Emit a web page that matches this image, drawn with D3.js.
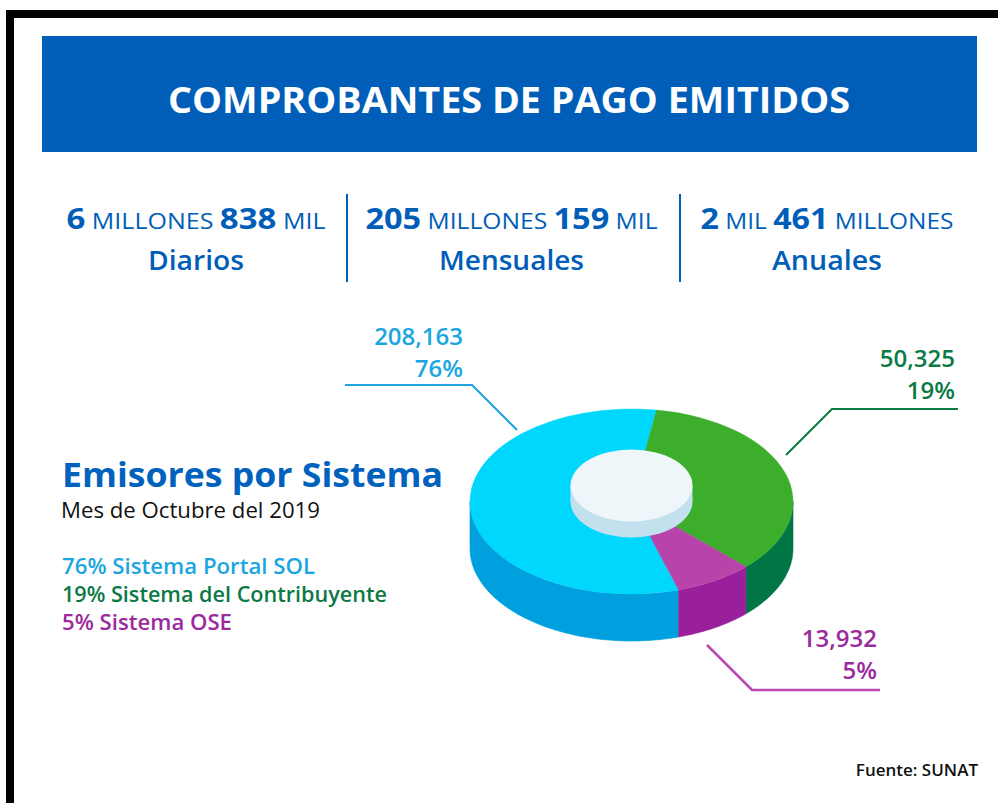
<!DOCTYPE html>
<html>
<head>
<meta charset="utf-8">
<script src="https://cdn.jsdelivr.net/npm/d3@7"></script>
<style>
  body { margin: 0; background: #fff; }
  svg { display: block; font-family: "Open Sans", sans-serif; }
</style>
</head>
<body>
<div id="chart"></div>
<script>
// data
var sistemas = ["Sistema Portal SOL", "Sistema del Contribuyente", "Sistema OSE"];
var emisores = [208163, 50325, 13932];
var porcentajes = [76, 19, 5];
// share of the disc as it is drawn in the infographic (not to scale with the counts)
var sliceShare = [57.2, 35, 7.8];

var statNum = [["6", "838"], ["205", "159"], ["2", "461"]];
var statUnit = [["MILLONES", "MIL"], ["MILLONES", "MIL"], ["MIL", "MILLONES"]];
var statPeriod = ["Diarios", "Mensuales", "Anuales"];

const W = 998, H = 803;
const blue = "#005eb8";
var topColor = ["#00d7fd", "#3dae2b", "#b843a9"];
var sideColor = ["#00a0de", "#007647", "#9a209b"];
var textColor = ["#1ba6e0", "#0b7a45", "#9b2a9e"];
var lineColor = ["#1ba6e0", "#0b7a45", "#bb47b3"];

var svg = d3.select("#chart").append("svg")
    .attr("width", W)
    .attr("height", H);

// frame
svg.append("rect").attr("x", 6).attr("y", 10).attr("width", W - 6).attr("height", 8).attr("fill", "#000");
svg.append("rect").attr("x", 6).attr("y", 10).attr("width", 8).attr("height", H - 10).attr("fill", "#000");

// banner
svg.append("rect")
    .attr("x", 42).attr("y", 36)
    .attr("width", 935).attr("height", 116)
    .attr("fill", blue);

svg.append("text")
    .attr("x", 509).attr("y", 113)
    .attr("text-anchor", "middle")
    .attr("fill", "#fff")
    .style("font-size", "36px")
    .style("font-weight", 700)
    .attr("textLength", 682)
    .attr("lengthAdjust", "spacingAndGlyphs")
    .text("COMPROBANTES DE PAGO EMITIDOS");

// stats row
var colX = d3.scalePoint().domain(statPeriod).range([196, 827]);
var line1W = [259, 292, 253];
var line2W = [96, 145, 110];

statPeriod.forEach(function(p, i) {
    var t = svg.append("text")
        .attr("x", colX(p)).attr("y", 229)
        .attr("text-anchor", "middle")
        .attr("fill", blue)
        .attr("textLength", line1W[i])
        .attr("lengthAdjust", "spacingAndGlyphs");
    t.append("tspan").style("font-size", "29px").style("font-weight", 700).text(statNum[i][0]);
    t.append("tspan").style("font-size", "22px").style("font-weight", 400).text(" " + statUnit[i][0] + " ");
    t.append("tspan").style("font-size", "29px").style("font-weight", 700).text(statNum[i][1]);
    t.append("tspan").style("font-size", "22px").style("font-weight", 400).text(" " + statUnit[i][1]);

    svg.append("text")
        .attr("x", colX(p)).attr("y", 270)
        .attr("text-anchor", "middle")
        .attr("fill", blue)
        .style("font-size", "27px")
        .style("font-weight", 600)
        .attr("textLength", line2W[i])
        .attr("lengthAdjust", "spacingAndGlyphs")
        .text(p);
});

[347, 680].forEach(function(x) {
    svg.append("line")
        .attr("x1", x).attr("x2", x)
        .attr("y1", 194).attr("y2", 282)
        .attr("stroke", blue).attr("stroke-width", 2);
});

// left block
svg.append("text")
    .attr("x", 62).attr("y", 487)
    .attr("fill", "#0062bd")
    .style("font-size", "34px")
    .style("font-weight", 700)
    .attr("textLength", 381)
    .attr("lengthAdjust", "spacingAndGlyphs")
    .text("Emisores por Sistema");

svg.append("text")
    .attr("x", 61).attr("y", 518)
    .attr("fill", "#111")
    .style("font-size", "21px")
    .style("font-weight", 400)
    .attr("textLength", 259)
    .attr("lengthAdjust", "spacingAndGlyphs")
    .text("Mes de Octubre del 2019");

var legendW = [253, 325, 170];
var legendY = d3.scalePoint().domain(sistemas).range([574, 630]);
sistemas.forEach(function(s, i) {
    svg.append("text")
        .attr("x", 62).attr("y", legendY(s))
        .attr("fill", textColor[i])
        .style("font-size", "21px")
        .style("font-weight", 600)
        .attr("textLength", legendW[i])
        .attr("lengthAdjust", "spacingAndGlyphs")
        .text(porcentajes[i] + "% " + s);
});

// 3D pie
const cx = 631.5, cy = 501.5, rx = 161.5, ry = 92.5, depth = 47;
const a0 = 163 * Math.PI / 180;
var arcs = d3.pie().sort(null)
    .startAngle(a0).endAngle(a0 + 2 * Math.PI)(sliceShare);

function pt(a, yOff) {
    return [cx + rx * Math.sin(a), cy - ry * Math.cos(a) + yOff];
}

var lineGen = d3.line();

// side walls (front half only: angles between PI/2 and 3PI/2)
arcs.forEach(function(d, i) {
    [0, 1].forEach(function(k) {
        var lo = Math.max(d.startAngle, Math.PI / 2 + k * 2 * Math.PI);
        var hi = Math.min(d.endAngle, 3 * Math.PI / 2 + k * 2 * Math.PI);
        if (hi <= lo) return;
        var n = 60;
        var angs = d3.range(n + 1).map(function(j) { return lo + (hi - lo) * j / n; });
        var pts = angs.map(function(a) { return pt(a, 0); })
            .concat(angs.slice().reverse().map(function(a) { return pt(a, depth); }));
        svg.append("path")
            .attr("d", lineGen(pts) + "Z")
            .attr("fill", sideColor[i])
            .attr("stroke", sideColor[i])
            .attr("stroke-width", 0.6);
    });
});

// top faces
var arcGen = d3.arc().innerRadius(0).outerRadius(rx);
var topG = svg.append("g")
    .attr("transform", "translate(" + cx + "," + cy + ") scale(1," + (ry / rx) + ")");
topG.selectAll("path")
    .data(arcs)
    .enter().append("path")
    .attr("d", arcGen)
    .attr("fill", function(d, i) { return topColor[i]; })
    .attr("stroke", function(d, i) { return topColor[i]; })
    .attr("stroke-width", 0.6);

// center cylinder
const hrx = 61, hry = 36, hd = 16;
svg.append("ellipse").attr("cx", cx).attr("cy", cy).attr("rx", hrx).attr("ry", hry).attr("fill", "#c3e0ef");
svg.append("rect").attr("x", cx - hrx).attr("y", cy - hd).attr("width", 2 * hrx).attr("height", hd).attr("fill", "#c3e0ef");
svg.append("ellipse").attr("cx", cx).attr("cy", cy - hd).attr("rx", hrx).attr("ry", hry).attr("fill", "#eef6fa");

// leader lines and labels
var leaders = [
    [[345, 385], [472, 385], [517, 430]],
    [[958, 409], [832, 409], [786, 455]],
    [[707, 645], [752, 690], [880, 690]]
];
var labelPos = [[463, 345], [955, 367], [877, 647]];
var fmt = d3.format(",");

leaders.forEach(function(l, i) {
    svg.append("path")
        .attr("d", lineGen(l))
        .attr("fill", "none")
        .attr("stroke", lineColor[i])
        .attr("stroke-width", i == 2 ? 2.6 : 2);
    var g = svg.append("text")
        .attr("text-anchor", "end")
        .attr("fill", textColor[i])
        .style("font-size", "24px")
        .style("font-weight", 600);
    g.append("tspan").attr("x", labelPos[i][0]).attr("y", labelPos[i][1]).text(fmt(emisores[i]));
    g.append("tspan").attr("x", labelPos[i][0]).attr("y", labelPos[i][1] + 32).text(porcentajes[i] + "%");
});

// source
svg.append("text")
    .attr("x", 978).attr("y", 776)
    .attr("text-anchor", "end")
    .attr("fill", "#111")
    .style("font-size", "17px")
    .style("font-weight", 600)
    .text("Fuente: SUNAT");
</script>
</body>
</html>
